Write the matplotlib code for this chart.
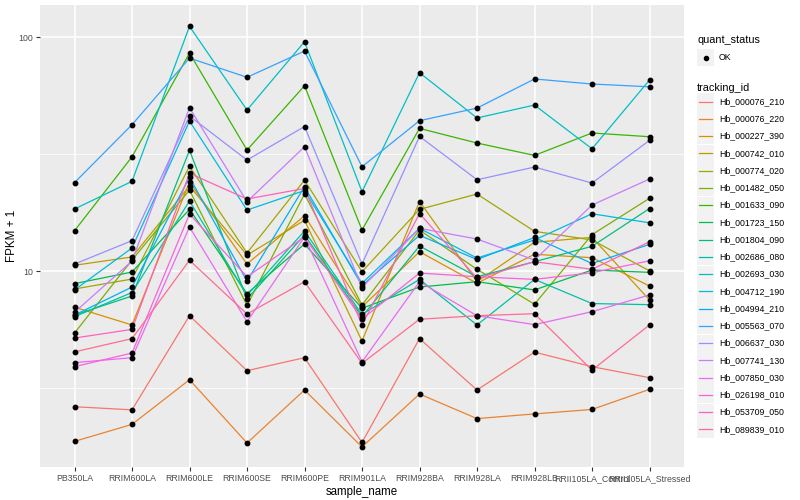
import matplotlib
matplotlib.use("Agg")
import matplotlib.pyplot as plt
from matplotlib.patches import Rectangle
from matplotlib.lines import Line2D

plt.rcParams["font.family"] = ["Liberation Sans", "DejaVu Sans"]

samples = ["PB350LA", "RRIM600LA", "RRIM600LE", "RRIM600SE", "RRIM600PE",
           "RRIM901LA", "RRIM928BA", "RRIM928LA", "RRIM928LB",
           "RRII105LA_Control", "RRII105LA_Stressed"]

tracking_ids = ["Hb_000076_210", "Hb_000076_220", "Hb_000227_390", "Hb_000742_010",
                "Hb_000774_020", "Hb_001482_050", "Hb_001633_090", "Hb_001723_150",
                "Hb_001804_090", "Hb_002686_080", "Hb_002693_030", "Hb_004712_190",
                "Hb_004994_210", "Hb_005563_070", "Hb_006637_030", "Hb_007741_130",
                "Hb_007850_030", "Hb_026198_010", "Hb_053709_050", "Hb_089839_010"]

# FPKM per sample, one list per gene
hb_000076_210 = [1.63, 1.55, 5.44, 2.75, 3.26, 0.85, 4.14, 2.10, 3.50, 2.90, 2.50]
hb_000076_220 = [0.87, 1.21, 2.43, 0.84, 2.10, 0.77, 1.98, 1.34, 1.45, 1.56, 2.12]
hb_000227_390 = [6.00, 4.88, 22.99, 9.71, 16.23, 6.02, 11.09, 7.86, 10.79, 10.40, 7.63]
hb_000742_010 = [9.58, 10.48, 22.08, 10.70, 15.47, 4.02, 18.82, 8.00, 12.26, 12.93, 6.52]
hb_000774_020 = [7.38, 8.24, 27.02, 10.94, 23.46, 8.93, 17.35, 20.33, 13.78, 12.57, 9.02]
hb_001482_050 = [4.43, 10.14, 21.18, 6.13, 20.33, 6.16, 13.97, 9.17, 6.21, 13.30, 19.45]
hb_001633_090 = [13.86, 29.77, 84.4, 31.89, 60.9, 13.97, 39.7, 34.24, 30.2, 37.9, 36.5]
hb_001723_150 = [7.83, 8.90, 17.35, 7.01, 12.05, 5.93, 7.54, 8.00, 7.30, 9.10, 8.87]
hb_001804_090 = [5.48, 6.82, 31.8, 6.59, 13.25, 5.38, 11.79, 8.45, 9.96, 11.75, 17.49]
hb_002686_080 = [5.38, 7.09, 18.92, 6.86, 13.83, 5.52, 8.21, 4.88, 8.21, 6.26, 6.18]
hb_002693_030 = [17.41, 23.17, 110.1, 47.75, 94.5, 20.82, 69.4, 44.1, 50.2, 32.3, 64.5]
hb_004712_190 = [7.30, 11.54, 42.75, 17.22, 21.08, 7.86, 14.22, 10.36, 12.57, 16.57, 15.07]
hb_004994_210 = [5.48, 7.54, 24.14, 8.06, 21.92, 7.67, 13.21, 10.20, 12.91, 9.77, 12.00]
hb_005563_070 = [22.86, 41.2, 80.3, 66.3, 86.1, 26.9, 42.9, 48.7, 65.2, 62.0, 60.3]
hb_006637_030 = [9.71, 12.48, 44.96, 28.8, 40.45, 9.71, 36.63, 23.55, 26.82, 22.77, 35.18]
hb_007741_130 = [5.66, 10.03, 48.88, 18.78, 32.98, 7.50, 14.22, 12.70, 10.14, 18.14, 23.72]
hb_007850_030 = [3.06, 3.26, 14.42, 5.07, 12.97, 3.09, 8.00, 5.44, 4.90, 5.70, 6.90]
hb_026198_010 = [2.90, 3.46, 16.52, 8.45, 12.97, 5.23, 8.80, 8.45, 8.21, 8.83, 10.06]
hb_053709_050 = [4.17, 4.63, 25.15, 19.31, 21.53, 4.88, 16.61, 8.31, 9.96, 9.17, 12.34]
hb_089839_010 = [3.51, 4.14, 10.11, 5.55, 8.00, 3.03, 5.22, 5.44, 5.57, 2.77, 4.88]

series = [hb_000076_210, hb_000076_220, hb_000227_390, hb_000742_010, hb_000774_020,
          hb_001482_050, hb_001633_090, hb_001723_150, hb_001804_090, hb_002686_080,
          hb_002693_030, hb_004712_190, hb_004994_210, hb_005563_070, hb_006637_030,
          hb_007741_130, hb_007850_030, hb_026198_010, hb_053709_050, hb_089839_010]

# ggplot2 default hue palette, 20 levels
colors = ["#F8766D", "#EA8331", "#D89000", "#C09B00", "#A3A500", "#7CAE00", "#39B600",
          "#00BB4E", "#00BF7D", "#00C1A3", "#00BFC4", "#00BAE0", "#00B0F6", "#35A2FF",
          "#9590FF", "#C77CFF", "#E76BF3", "#FA62DB", "#FF62BC", "#FF6C91"]

W, H = 800, 500
fig = plt.figure(figsize=(8, 5), dpi=100)
ax = fig.add_axes([40 / W, 1 - 467 / H, (684 - 40) / W, (467 - 5) / H])
ax.set_facecolor("#EBEBEB")
for s in ax.spines.values():
    s.set_visible(False)

xs = list(range(len(samples)))
for vals, c in zip(series, colors):
    ax.plot(xs, [v + 1 for v in vals], color=c, lw=0.9, zorder=3)
for vals in series:
    ax.plot(xs, [v + 1 for v in vals], ls="none", marker="o", ms=3.2,
            color="black", zorder=4)

ax.set_yscale("log")
ax.set_ylim(1.453, 137.1)
ax.set_xlim(-0.6, len(samples) - 0.4)
ax.set_yticks([10, 100])
ax.set_yticklabels(["10", "100"])
ax.set_yticks([10 ** 0.5, 10 ** 1.5], minor=True)
ax.yaxis.set_minor_formatter(plt.NullFormatter())
ax.set_xticks(xs)
ax.set_xticklabels(samples)
ax.tick_params(axis="both", which="major", length=3, width=0.8, color="#333333",
               labelsize=6.3, labelcolor="#4D4D4D", pad=2)
ax.tick_params(axis="y", which="minor", length=0)
ax.grid(True, which="major", color="white", lw=1.1, zorder=0)
ax.grid(True, which="minor", axis="y", color="white", lw=0.55, zorder=0)
ax.set_axisbelow(True)
ax.set_xlabel("sample_name", fontsize=8.3, labelpad=2)
ax.set_ylabel("FPKM + 1", fontsize=8.3)
ax.yaxis.set_label_coords(-22 / 644, 0.5)


def fx(px):
    return px / W


def fy(py):
    return 1 - py / H


# legend: quant_status
fig.text(fx(697), fy(40), "quant_status", fontsize=7.8, va="center", ha="left")
fig.patches.append(Rectangle((fx(697), fy(66)), 17 / W, 17 / H, transform=fig.transFigure,
                             facecolor="#F2F2F2", edgecolor="none"))
fig.lines.append(Line2D([fx(705.5)], [fy(57.5)], transform=fig.transFigure, marker="o",
                        ms=3.0, color="black", ls="none"))
fig.text(fx(719), fy(57.5), "OK", fontsize=6.3, va="center", ha="left")

# legend: tracking_id
fig.text(fx(697), fy(88), "tracking_id", fontsize=7.8, va="center", ha="left")
for i, (tid, c) in enumerate(zip(tracking_ids, colors)):
    yc = 101.5 + i * 17.25
    fig.patches.append(Rectangle((fx(697), fy(yc + 8.5)), 17 / W, 17 / H,
                                 transform=fig.transFigure, facecolor="#F2F2F2",
                                 edgecolor="none"))
    fig.lines.append(Line2D([fx(699), fx(712)], [fy(yc), fy(yc)], transform=fig.transFigure,
                            color=c, lw=0.9))
    fig.text(fx(719), fy(yc), tid, fontsize=6.3, va="center", ha="left")

fig.savefig("out.png", dpi=100, facecolor="white")
